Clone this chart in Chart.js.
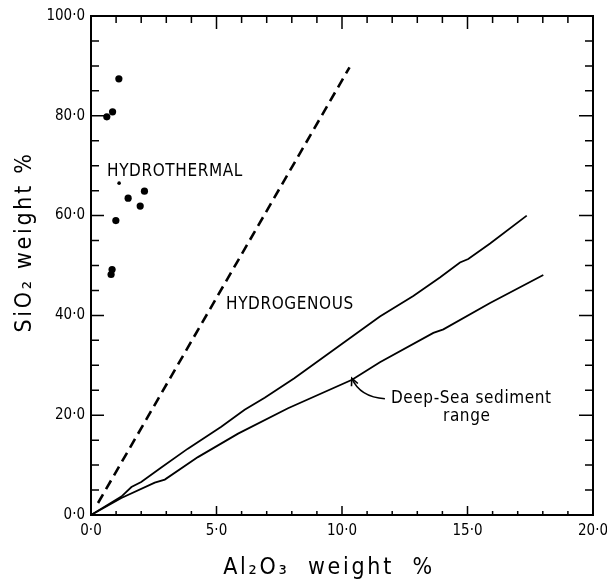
<!DOCTYPE html>
<html>
<head>
<meta charset="utf-8">
<title>SiO2 vs Al2O3</title>
<script src="https://cdn.jsdelivr.net/npm/chart.js@4"></script>
<style>
  html, body { margin: 0; padding: 0; background: #fff; }
  canvas { display: block; }
</style>
</head>
<body>
<canvas id="grafico" width="607" height="585"></canvas>
<script>
// Hydrothermal samples (Al2O3 %, SiO2 %)
const sampleAl = [1.11, 0.86, 0.63, 0.99, 1.48, 1.96, 2.13, 0.84, 0.80];
const sampleSi = [87.4, 80.8, 79.8, 59.0, 63.5, 61.9, 64.9, 49.2, 48.2];
// half-hidden sample under the HYDROTHERMAL label
const faintAl = [1.12];
const faintSi = [66.5];

// Hydrogenous / hydrothermal boundary (dashed)
const boundaryAl = [0.28, 10.3];
const boundarySi = [2.4, 89.7];

// Deep-sea sediment range, upper and lower limits
const upperAl = [0, 1.21, 1.61, 2.0, 2.8, 3.86, 5.19, 6.12, 6.92, 8.1, 11.51, 12.84, 13.9, 14.7, 15.03, 15.9, 17.36];
const upperSi = [0, 3.7, 5.6, 6.6, 9.5, 13.3, 17.7, 21.1, 23.5, 27.4, 39.8, 43.9, 47.6, 50.6, 51.3, 54.4, 60.0];
const lowerAl = [0, 1.21, 2.54, 2.94, 4.26, 5.86, 7.85, 10.4, 11.51, 13.64, 14.04, 15.9, 18.02];
const lowerSi = [0, 3.4, 6.5, 7.1, 11.6, 16.3, 21.4, 27.1, 30.6, 36.5, 37.2, 42.5, 48.1];

// Axis ticks with labels
const xTicks = [0, 5, 10, 15, 20];
const yTicks = [0, 20, 40, 60, 80, 100];

const FONT = '"DejaVu Sans Condensed", "Liberation Sans Narrow", "DejaVu Sans", sans-serif';

function toPoints(xs, ys) {
    return xs.map((v, i) => ({ x: v, y: ys[i] }));
}

function fmt(v) {
    return v.toFixed(1).replace('.', '·');
}

// Frame, inward ticks, titles and notes
const frameAndNotes = {
    id: 'frameAndNotes',
    afterDraw(chart) {
        const { ctx, chartArea: a, scales: { x, y } } = chart;
        ctx.save();
        ctx.strokeStyle = '#000';
        ctx.fillStyle = '#000';
        ctx.lineWidth = 2;
        ctx.strokeRect(a.left, a.top, a.right - a.left, a.bottom - a.top);

        ctx.lineWidth = 1.5;
        ctx.beginPath();
        for (let v = 1; v < 20; v++) {
            const px = x.getPixelForValue(v);
            const major = v % 5 === 0;
            ctx.moveTo(px, a.bottom); ctx.lineTo(px, a.bottom - (major ? 9 : 4));
            ctx.moveTo(px, a.top); ctx.lineTo(px, a.top + (major ? 13 : 7));
        }
        for (let v = 5; v < 100; v += 5) {
            const py = y.getPixelForValue(v);
            const major = v % 20 === 0;
            ctx.moveTo(a.left, py); ctx.lineTo(a.left + (major ? 13 : 8), py);
            ctx.moveTo(a.right, py); ctx.lineTo(a.right - (major ? 14 : 8), py);
        }
        ctx.stroke();

        // axis titles
        ctx.textBaseline = 'middle';
        ctx.textAlign = 'center';
        ctx.font = '23px ' + FONT;
        ctx.letterSpacing = '2.7px';
        ctx.fillText('Al\u2082O\u2083  weight  %', a.left + 238, a.bottom + 53);
        ctx.save();
        ctx.translate(a.left - 66, a.top + 226);
        ctx.rotate(-Math.PI / 2);
        ctx.fillText('SiO\u2082 weight %', 0, 0);
        ctx.restore();

        // region labels
        ctx.textAlign = 'left';
        ctx.font = '17px ' + FONT;
        ctx.letterSpacing = '0.6px';
        ctx.fillText('HYDROTHERMAL', x.getPixelForValue(0.64), y.getPixelForValue(68.9));
        ctx.fillText('HYDROGENOUS', x.getPixelForValue(5.38), y.getPixelForValue(42.2));
        ctx.fillText('Deep-Sea sediment', x.getPixelForValue(11.95), y.getPixelForValue(23.3));
        ctx.textAlign = 'center';
        ctx.fillText('range', x.getPixelForValue(14.97), y.getPixelForValue(19.8));
        ctx.letterSpacing = '0px';

        // curved arrow to the lower limit
        const sx = x.getPixelForValue(11.71), sy = y.getPixelForValue(23.3);
        const cx = x.getPixelForValue(10.72), cy = y.getPixelForValue(23.6);
        const tx = x.getPixelForValue(10.39), ty = y.getPixelForValue(27.4);
        ctx.lineWidth = 1.6;
        ctx.beginPath();
        ctx.moveTo(sx, sy);
        ctx.quadraticCurveTo(cx, cy, tx, ty);
        ctx.stroke();
        const ang = Math.atan2(ty - cy, tx - cx);
        ctx.beginPath();
        ctx.moveTo(tx - 8 * Math.cos(ang - 0.45), ty - 8 * Math.sin(ang - 0.45));
        ctx.lineTo(tx, ty);
        ctx.lineTo(tx - 8 * Math.cos(ang + 0.45), ty - 8 * Math.sin(ang + 0.45));
        ctx.stroke();
        ctx.restore();
    }
};

const ctx = document.getElementById('grafico').getContext('2d');

new Chart(ctx, {
    type: 'scatter',
    data: {
        datasets: [
            {
                label: 'Hydrothermal samples',
                data: toPoints(sampleAl, sampleSi),
                backgroundColor: '#000',
                borderColor: '#000',
                pointRadius: 3.6,
                pointBorderWidth: 0
            },
            {
                label: 'Faint sample',
                data: toPoints(faintAl, faintSi),
                backgroundColor: '#000',
                borderColor: '#000',
                pointRadius: 1.8,
                pointBorderWidth: 0
            },
            {
                label: 'Boundary',
                data: toPoints(boundaryAl, boundarySi),
                showLine: true,
                borderColor: '#000',
                borderWidth: 2.6,
                borderDash: [10, 6],
                pointRadius: 0
            },
            {
                label: 'Upper limit',
                data: toPoints(upperAl, upperSi),
                showLine: true,
                borderColor: '#000',
                borderWidth: 1.8,
                pointRadius: 0
            },
            {
                label: 'Lower limit',
                data: toPoints(lowerAl, lowerSi),
                showLine: true,
                borderColor: '#000',
                borderWidth: 1.8,
                pointRadius: 0
            }
        ]
    },
    options: {
        responsive: false,
        animation: false,
        layout: { padding: { top: 16, right: 14, left: 0, bottom: 0 } },
        plugins: {
            legend: { display: false },
            tooltip: { enabled: false }
        },
        scales: {
            x: {
                type: 'linear',
                min: 0,
                max: 20,
                grid: { display: false, drawTicks: false },
                border: { display: false },
                afterBuildTicks: s => { s.ticks = xTicks.map(v => ({ value: v })); },
                afterFit: s => { s.height = 70; s.paddingLeft = 0; s.paddingRight = 0; },
                ticks: {
                    padding: 7,
                    maxRotation: 0,
                    color: '#000',
                    font: { family: FONT, size: 15 },
                    callback: v => fmt(v)
                }
            },
            y: {
                type: 'linear',
                min: 0,
                max: 100,
                grid: { display: false, drawTicks: false },
                border: { display: false },
                afterBuildTicks: s => { s.ticks = yTicks.map(v => ({ value: v })); },
                afterFit: s => { s.width = 91; s.paddingTop = 0; s.paddingBottom = 0; },
                ticks: {
                    padding: 6,
                    color: '#000',
                    font: { family: FONT, size: 15 },
                    callback: v => fmt(v)
                }
            }
        }
    },
    plugins: [frameAndNotes]
});
</script>
</body>
</html>
